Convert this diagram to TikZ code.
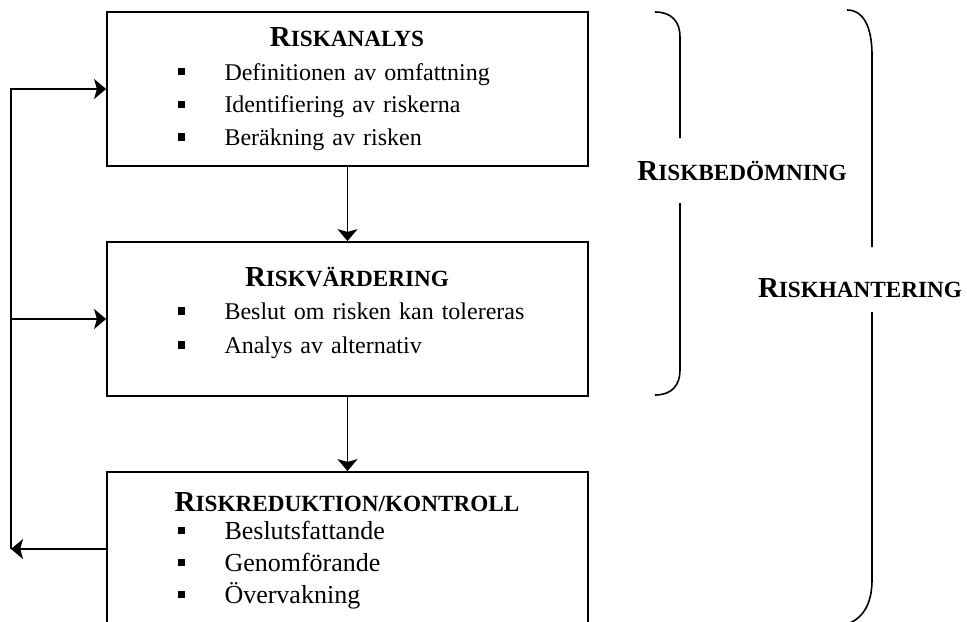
\documentclass[tikz,border=0pt]{standalone}
\usepackage{fontspec}
\setmainfont{Liberation Serif}
\usetikzlibrary{arrows.meta,positioning}
\newcommand{\scap}[2]{\textbf{\fontsize{14.5}{16}\selectfont #1\fontsize{11.6}{16}\selectfont #2}}
\newcommand{\btitle}[1]{\makebox[\linewidth][c]{\rule{0pt}{11pt}#1}}
\newcommand{\bitem}[1]{\hspace*{35.6pt}\makebox[23.4pt][l]{\rule[2.5pt]{3.6pt}{3.6pt}}#1}

\begin{document}
\begin{tikzpicture}[x=0.5pt, y=-0.5pt,
  stage/.style={draw, line width=0.9pt, minimum width=240.5pt,
                minimum height=77pt, inner sep=0pt},
  stagetext/.style={text width=240.5pt, inner sep=0pt, align=left,
                    font=\fontsize{12}{16}\selectfont},
  link/.style={-{Stealth[length=6pt, width=10pt, inset=1.4pt]}, line width=0.8pt},
  brace/.style={line width=0.8pt},
  tag/.style={anchor=base, inner sep=0pt}
]
\useasboundingbox (0,0) rectangle (967,621);
\node[stage] (ana) at (347.5,89) {};
\node[stage] (val) at (347.5,319) {};
\node[stage] (red) at (347.5,549) {};
\node[stagetext, below right=6.5pt and 0pt of ana.north west] (anatext)
  {\btitle{\scap{R}{ISKANALYS}}\\[0.8pt]
   \bitem{Definitionen av omfattning}\\[0.4pt]
   \bitem{Identifiering av riskerna}\\[0.4pt]
   \bitem{Beräkning av risken}};
\node[stagetext, below right=11.5pt and 0pt of val.north west] (valtext)
  {\btitle{\scap{R}{ISKVÄRDERING}}\\[0.5pt]
   \bitem{Beslut om risken kan tolereras}\\[1pt]
   \bitem{Analys av alternativ}};
\node[stagetext, below right=9pt and 0pt of red.north west,
      font=\fontsize{13}{16}\selectfont] (redtext)
  {\btitle{\scap{R}{ISKREDUKTION/KONTROLL}}\\[-2.2pt]
   \bitem{Beslutsfattande}\\
   \bitem{Genomförande}\\
   \bitem{Övervakning}};
\coordinate (loop) at (11,549);
\draw[link] (ana) -- (val);
\draw[link] (val) -- (red);
\draw[link] (red.west) -- (loop);
\draw[link] (loop) |- (ana.west);
\draw[link] (val.west -| loop) -- (val.west);
% braces on the right
\node[tag] (bed) at (742,180) {\scap{R}{ISKBEDÖMNING}};
\node[tag] (han) at (860,297) {\scap{R}{ISKHANTERING}};
\draw[brace] (655,12) .. controls (672,12) and (680,22) .. (680,37) -- (680,138);
\draw[brace] (680,203) -- (680,370) .. controls (680,385) and (672,395) .. (655,395);
\draw[brace] (847,10) .. controls (864,10) and (872,28) .. (872,55) -- (872,247);
\draw[brace] (872,312) -- (872,580) .. controls (872,605) and (862,622) .. (840,626);
\end{tikzpicture}
\end{document}
